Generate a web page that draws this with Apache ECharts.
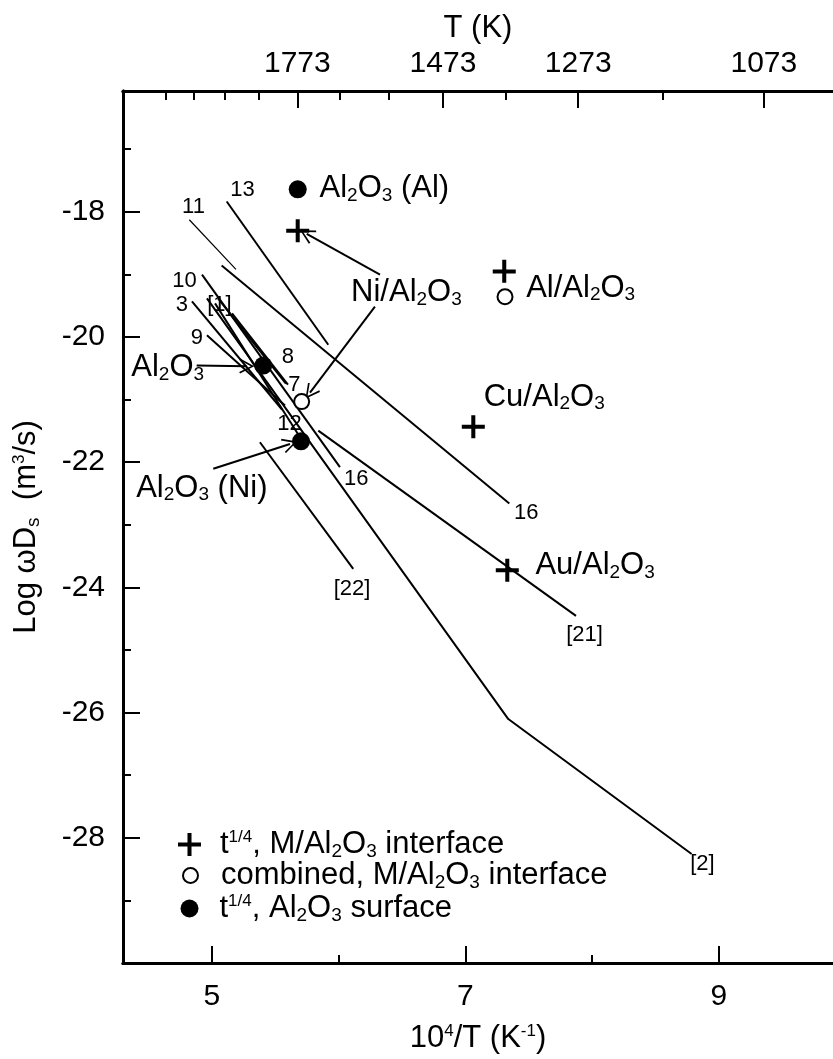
<!DOCTYPE html>
<html>
<head>
<meta charset="utf-8">
<script src="https://cdn.jsdelivr.net/npm/echarts@6/dist/echarts.min.js"></script>
<style>
  html, body { margin: 0; padding: 0; background: #fff; }
  #main { width: 833px; height: 1059px; }
</style>
</head>
<body>
<div id="main"></div>
<script>
// axis ticks
var xMajor = [5, 7, 9];
var xMinor = [6, 8];
var yMajor = [-28, -26, -24, -22, -20, -18];
var yMinor = [-29, -27, -25, -23, -21, -19, -17];
var tMajor = [1773, 1473, 1273, 1073];
var tMinor = [2173, 2073, 1973, 1873, 1673, 1573, 1373, 1173];

// measured points [10^4/T, log wDs]
var plusPts   = [[5.678, -18.301], [7.307, -18.951], [7.063, -21.433], [7.331, -23.726]];
var openPts   = [[5.709, -21.032], [7.313, -19.357]];
var filledPts = [[5.678, -17.640], [5.406, -20.456], [5.704, -21.666]];

// literature lines
var line13  = [[5.118, -17.835], [5.919, -20.124]];
var line11  = [[4.823, -18.127], [5.191, -18.919]];
var line16a = [[5.078, -18.856], [7.347, -22.659]];
var line21  = [[5.840, -21.496], [7.873, -24.455]];
var line22  = [[5.380, -21.681], [6.116, -23.705]];
var line2   = [[4.962, -19.383], [7.339, -26.103], [8.785, -28.258]];
var line10  = [[4.923, -19.003], [6.011, -22.078]];
var line3   = [[4.844, -19.431], [5.554, -21.158]];
var line9   = [[4.962, -19.970], [5.578, -21.095]];
var line8   = [[5.049, -19.383], [5.585, -20.746]];
var line1   = [[5.160, -19.621], [5.601, -20.762]];
var line12  = [[5.026, -19.463], [5.696, -21.602]];

// annotations
var numLabels = [
  ['13', 5.246, -17.656], ['11', 4.860, -17.930], ['10', 4.789, -19.119],
  ['3', 4.768, -19.490], ['[1]', 5.065, -19.490], ['9', 4.886, -20.017],
  ['8', 5.604, -20.334], ['7', 5.656, -20.780], ['12', 5.617, -21.390],
  ['16', 6.143, -22.280], ['16', 7.484, -22.818], ['[22]', 6.111, -24.030],
  ['[21]', 7.944, -24.770], ['[2]', 8.874, -28.420]
];
var bigLabels = [
  ['Al{sub|2}O{sub|3} (Al)', 5.854, -17.640], ['Ni/Al{sub|2}O{sub|3}', 6.103, -19.300],
  ['Al/Al{sub|2}O{sub|3}', 7.484, -19.225], ['Cu/Al{sub|2}O{sub|3}', 7.149, -20.968],
  ['Au/Al{sub|2}O{sub|3}', 7.557, -23.665], ['Al{sub|2}O{sub|3}', 4.369, -20.493],
  ['Al{sub|2}O{sub|3} (Ni)', 4.408, -22.420]
];
var arrows = [
  [[6.327, -19.003], [5.749, -18.353]],
  [[6.287, -19.515], [5.775, -20.889]],
  [[4.881, -20.456], [5.276, -20.466]],
  [[5.012, -22.105], [5.617, -21.708]]
];

var FONT = 'Liberation Sans, Arial, sans-serif';
var plusPath = 'path://M0,10L24,10L24,14.2L0,14.2Z M9.9,0L14.1,0L14.1,24L9.9,24Z';
var vArrow = 'path://M50,0L100,92L90,98L50,22L10,98L0,92Z';

function richSet(size) {
  return {
    sub: { fontFamily: FONT, fontSize: Math.round(size * 0.62), color: '#000', padding: [Math.round(size * 0.45), 0, 0, 0] },
    sup: { fontFamily: FONT, fontSize: Math.round(size * 0.56), color: '#000', padding: [0, 0, Math.round(size * 0.45), 0] }
  };
}

var myChart = echarts.init(document.getElementById('main'));

var lineList = [line13, line11, line16a, line21, line22, line2, line10, line3, line9, line8, line1, line12];
var series = [];
lineList.forEach(function (d) {
  series.push({
    type: 'line', data: d, showSymbol: false, silent: true,
    lineStyle: { color: '#000', width: d === line11 ? 1.2 : 2, opacity: 1 }
  });
});

arrows.forEach(function (a) {
  series.push({
    type: 'lines', coordinateSystem: 'cartesian2d', silent: true,
    symbol: ['none', vArrow], symbolSize: [13, 15],
    lineStyle: { color: '#000', width: 2, opacity: 1 },
    data: [{ coords: a }]
  });
});

series.push({
  name: 'interface', type: 'scatter', data: plusPts, symbol: plusPath,
  symbolSize: 23, itemStyle: { color: '#000', opacity: 1 }, z: 5
});
series.push({
  name: 'combined', type: 'scatter', data: openPts, symbol: 'emptyCircle',
  symbolSize: 15, itemStyle: { color: '#000', borderColor: '#000', borderWidth: 1.5, opacity: 1 }, z: 5
});
series.push({
  name: 'surface', type: 'scatter', data: filledPts, symbol: 'circle',
  symbolSize: 18, itemStyle: { color: '#000', opacity: 1 }, z: 5
});

function textSeries(list, size, align) {
  return {
    type: 'scatter', silent: true, symbolSize: 1,
    itemStyle: { color: '#fff', opacity: 1 }, z: 6,
    data: list.map(function (l) { return { name: l[0], value: [l[1], l[2]] }; }),
    label: {
      show: true, position: [0, 0], align: align, verticalAlign: 'middle', opacity: 1,
      formatter: '{b}', fontFamily: FONT, fontSize: size, color: '#000', rich: richSet(size)
    }
  };
}
series.push(textSeries(numLabels, 22, 'center'));
series.push(textSeries(bigLabels, 31, 'left'));

var legendText = {
  interface: 't{sup|1/4}, M/Al{sub|2}O{sub|3} interface',
  combined: 'combined, M/Al{sub|2}O{sub|3} interface',
  surface: 't{sup|1/4}, Al{sub|2}O{sub|3} surface'
};
function legendBox(name, icon, w, left, top, padLeft) {
  return {
    data: [{ name: name, icon: icon }], left: left, top: top, padding: 0,
    itemWidth: w, itemHeight: w, selectedMode: false,
    formatter: function (n) { return legendText[n]; },
    textStyle: { fontFamily: FONT, fontSize: 31, color: '#000', padding: [0, 0, 0, padLeft], rich: richSet(31) }
  };
}

var axisLine = { show: true, lineStyle: { color: '#000', width: 3 } };
function tickAxis(extra) {
  return Object.assign({
    type: 'value', splitLine: { show: false }, axisLine: axisLine
  }, extra);
}

var option = {
  animation: false,
  backgroundColor: '#fff',
  grid: { left: 123, top: 91, right: 0, bottom: 89.5, containLabel: false },
  legend: [
    legendBox('interface', plusPath, 23, 178, 829, 14),
    legendBox('combined', 'emptyCircle', 15, 182, 860, 18),
    legendBox('surface', 'circle', 18, 180.5, 893, 16)
  ],
  xAxis: [
    tickAxis({
      position: 'bottom', min: 4.3, max: 9.9,
      axisTick: { inside: true, length: 17, customValues: xMajor, lineStyle: { color: '#000', width: 2 } },
      axisLabel: { customValues: xMajor, margin: 19, fontFamily: FONT, fontSize: 30, color: '#000' },
      name: '10{sup|4}/T (K{sup|-1})', nameLocation: 'middle', nameGap: 60,
      nameTextStyle: { fontFamily: FONT, fontSize: 31, color: '#000', rich: richSet(31) }
    }),
    tickAxis({
      position: 'bottom', min: 4.3, max: 9.9,
      axisTick: { inside: true, length: 8, customValues: xMinor, lineStyle: { color: '#000', width: 2 } },
      axisLabel: { show: false }
    }),
    tickAxis({
      position: 'top', min: 4.265, max: 9.865,
      axisTick: { inside: true, length: 17, customValues: tMajor.map(function (t) { return 1e4 / t; }), lineStyle: { color: '#000', width: 2 } },
      axisLabel: {
        customValues: tMajor.map(function (t) { return 1e4 / t; }),
        formatter: function (v) { return String(Math.round(1e4 / v)); },
        margin: 12, fontFamily: FONT, fontSize: 30, color: '#000'
      },
      name: 'T (K)', nameLocation: 'middle', nameGap: 47,
      nameTextStyle: { fontFamily: FONT, fontSize: 31, color: '#000' }
    }),
    tickAxis({
      position: 'top', min: 4.265, max: 9.865,
      axisTick: { inside: true, length: 9, customValues: tMinor.map(function (t) { return 1e4 / t; }), lineStyle: { color: '#000', width: 2 } },
      axisLabel: { show: false }
    })
  ],
  yAxis: [
    tickAxis({
      position: 'left', min: -30, max: -16.07,
      axisTick: { inside: true, length: 17, customValues: yMajor, lineStyle: { color: '#000', width: 2 } },
      axisLabel: { customValues: yMajor, margin: 18, fontFamily: FONT, fontSize: 30, color: '#000' },
      name: 'Log \u03c9D{sub|s}  (m{sup|3}/s)', nameLocation: 'middle', nameGap: 80,
      nameTextStyle: { fontFamily: FONT, fontSize: 31, color: '#000', rich: richSet(31) }
    }),
    tickAxis({
      position: 'left', min: -30, max: -16.07,
      axisTick: { inside: true, length: 8, customValues: yMinor, lineStyle: { color: '#000', width: 2 } },
      axisLabel: { show: false }
    })
  ],
  series: series
};

myChart.setOption(option);
</script>
</body>
</html>
